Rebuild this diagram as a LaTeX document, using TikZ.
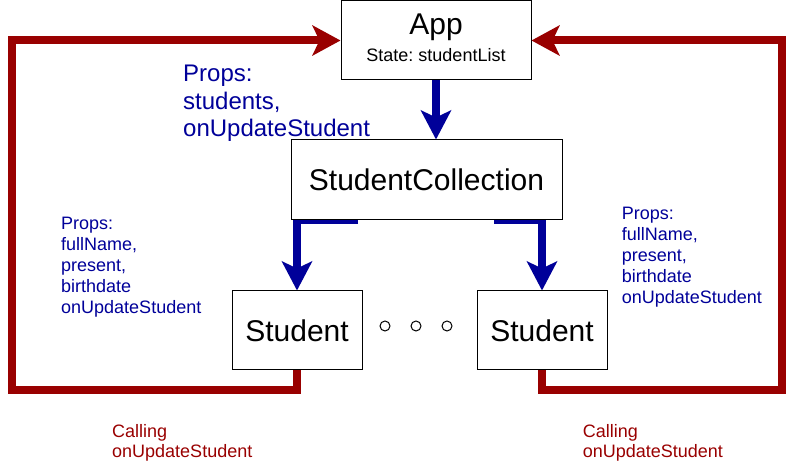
\documentclass[tikz,border=0pt]{standalone}
\usepackage{fontspec}
\setmainfont{Liberation Sans}
\usepackage{xcolor}
\definecolor{propsBlue}{HTML}{000099}
\definecolor{callRed}{HTML}{990000}
\usetikzlibrary{arrows.meta,positioning,backgrounds}
\frenchspacing
\tikzset{
    component/.style={
        draw=black,
        fill=white,
        rectangle,
        line width=1pt,
        align=center,
        inner sep=0pt,
        minimum height=79pt,
        font=\fontsize{30}{36}\selectfont
    },
    dot/.style={
        draw=black,
        fill=white,
        circle,
        line width=1pt,
        minimum size=10pt,
        inner sep=0pt
    },
    propsarrow/.style={
        -{Stealth[length=29pt,width=30pt,inset=7pt]},
        line width=8pt,
        color=propsBlue
    },
    callarrow/.style={
        -{Stealth[length=28pt,width=30pt,inset=7pt]},
        line width=8pt,
        color=callRed
    },
    propstext/.style={
        font=\fontsize{18}{21}\selectfont,
        text=propsBlue,
        align=left,
        anchor=base west,
        inner sep=0pt
    },
    bigprops/.style={
        propstext,
        font=\fontsize{24}{27.5}\selectfont
    },
    calltext/.style={
        font=\fontsize{18}{20}\selectfont,
        text=callRed,
        align=left,
        anchor=base west,
        inner sep=0pt
    }
}

\begin{document}
\begin{tikzpicture}[x=1pt, y=-1pt]
    \useasboundingbox (0,0) rectangle (793,462);

    % Top level - App
    \node[component, minimum width=190pt, text depth=6pt, font=\fontsize{18}{26.7}\selectfont] (app) at (436,40.5)
        {{\fontsize{30}{36}\selectfont App}\\State: studentList};

    % Second level - StudentCollection
    \node[component, minimum width=271pt, minimum height=80pt] (coll) at (426.5,180) {StudentCollection};

    % Third level - Students
    \node[component, minimum width=130pt] (stuL) at (297,330.5) {Student};
    \node[component, minimum width=130pt] (stuR) at (542,330.5) {Student};

    % Dots between the students
    \node[dot] (dot2) at (416,326) {};
    \node[dot, left=20pt of dot2] (dot1) {};
    \node[dot, right=20pt of dot2] (dot3) {};

    % Props labels (anchored at the last baseline)
    \node[bigprops] (propsApp) at (183,137) {Props:\\students,\\onUpdateStudent};
    \node[propstext] (propsL) at (61,313.5) {Props:\\fullName,\\present,\\birthdate\\onUpdateStudent};
    \node[propstext] (propsR) at (621.7,303.5) {Props:\\fullName,\\present,\\birthdate\\onUpdateStudent};

    % Calling labels
    \node[calltext] (callL) at (112,457.7) {Calling\\onUpdateStudent};
    \node[calltext] (callR) at (582.7,457.7) {Calling\\onUpdateStudent};

    % Corner points
    \coordinate (splitL) at (358,220);
    \coordinate (splitR) at (494,220);
    \coordinate (loopL) at (11.5,390);
    \coordinate (loopR) at (781.5,390);

    % Props going down
    \draw[propsarrow] (app.south) -- (app.south |- coll.north);
    \begin{pgfonlayer}{background}
        \draw[propsarrow] (splitL) -| (stuL.north);
        \draw[propsarrow] (splitR) -| (stuR.north);
    \end{pgfonlayer}

    % Callbacks going up
    \draw[callarrow] (stuL.south) |- (loopL) |- (app.west);
    \draw[callarrow] (stuR.south) |- (loopR) |- (app.east);
\end{tikzpicture}
\end{document}
